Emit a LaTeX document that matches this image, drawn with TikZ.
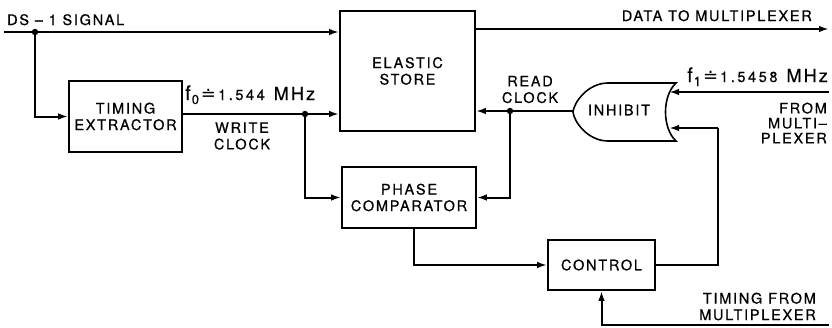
\documentclass[tikz,border=0pt]{standalone}
\usepackage{fontspec}
\setmainfont{TeX Gyre Heros}[LetterSpace=12,FakeBold=0.6]
\newfontfamily\dsymfont{DejaVu Sans}
\usetikzlibrary{arrows.meta}
\newcommand{\dlabfont}{\fontsize{14.5}{16.5}\selectfont}
\newcommand{\freqlab}[2]{{\fontsize{20}{20}\selectfont f}\kern1pt\raisebox{-4pt}{\fontsize{13}{13}\selectfont #1}\kern2pt{\fontsize{18}{16}\dsymfont ≐}\kern2pt{\fontsize{14.5}{14}\addfontfeature{LetterSpace=18}#2}\kern9pt{\fontsize{18}{18}\selectfont MHz}}
\begin{document}
\begin{tikzpicture}[x=1pt,y=-1pt,
  blk/.style={draw, line width=1.6pt, inner sep=0pt, align=center, font=\dlabfont},
  sig/.style={line width=2pt, -{Latex[length=10pt,width=6.5pt]}},
  wire/.style={line width=2pt},
  lbl/.style={font=\dlabfont, inner sep=0pt, align=center},
  jdot/.style={fill=black},
]
\useasboundingbox (0,0) rectangle (832,327);

% blocks
\node[blk, minimum width=113pt, minimum height=71pt] (te) at (125.5,116.5) {TIMING\\EXTRACTOR};
\node[blk, minimum width=135pt, minimum height=120pt] (es) at (407.5,71) {ELASTIC\\STORE};
\node[blk, minimum width=134pt, minimum height=61pt] (pc) at (409,197.5) {PHASE\\COMPARATOR};
\node[blk, minimum width=107pt, minimum height=50pt] (ctrl) at (601.5,265) {CONTROL};

% inhibit gate
\draw[line width=1.6pt] (608,83) -- (676,83) .. controls (662,96) and (662,128) .. (676,141) -- (608,141) .. controls (588,141) and (574,122) .. (573,112) .. controls (574,102) and (588,83) .. (608,83) -- cycle;
\node[lbl] (inh) at (619,110) {INHIBIT};
\coordinate (gout) at (573,111);
\coordinate (gin1) at (669,93);
\coordinate (gin2) at (669,128);

% coordinates
\coordinate (in0) at (4,32);
\coordinate (dot1) at (35,32);
\coordinate (dout) at (829,29);
\coordinate (wdot) at (305,114);
\coordinate (rdot) at (510,111);
\coordinate (fin) at (829,92);
\coordinate (turn) at (718,128);
\coordinate (tin) at (829,325);

% connectors
\draw[sig] (in0) -- (es.west |- in0);
\draw[sig] (dot1) |- (te.west);
\draw[sig] (es.east |- dout) -- (dout);
\draw[sig] ([yshift=2.5pt]te.east) -- (es.west |- wdot);
\draw[sig] (wdot) |- (pc.west);
\draw[sig] (gout) -- (es.east |- gout);
\draw[sig] (rdot) |- (pc.east);
\draw[sig] ([xshift=5pt]pc.south) |- (ctrl.west);
\draw[wire] (ctrl.east) -| (turn);
\draw[sig] (turn) -- (gin2);
\draw[sig] (fin) -- (gin1 |- fin);
\draw[sig] (tin) -| (ctrl.south);

\fill[jdot] (dot1) circle (3.2pt);
\fill[jdot] (wdot) circle (3.2pt);
\fill[jdot] (rdot) circle (3.2pt);

% labels
\node[lbl, anchor=base west] (ds) at (7,25) {DS – 1 SIGNAL};
\node[lbl, anchor=base east] (dtm) at (812,21) {DATA TO MULTIPLEXER};
\node[lbl, anchor=base west] (f0) at (185,100) {\freqlab{0}{1.544}};
\node[lbl] (wc) at (242,136) {WRITE\\CLOCK};
\node[lbl] (rc) at (530,89.5) {READ\\CLOCK};
\node[lbl, anchor=base east] (f1) at (828,82) {\freqlab{1}{1.5458}};
\node[lbl, align=right, anchor=east, font=\fontsize{14.5}{15}\selectfont] (fm) at (827,123) {FROM\\MULTI–\\PLEXER};
\node[lbl, align=right, anchor=east] (tfm) at (816,306.5) {TIMING FROM\\MULTIPLEXER};
\end{tikzpicture}
\end{document}
